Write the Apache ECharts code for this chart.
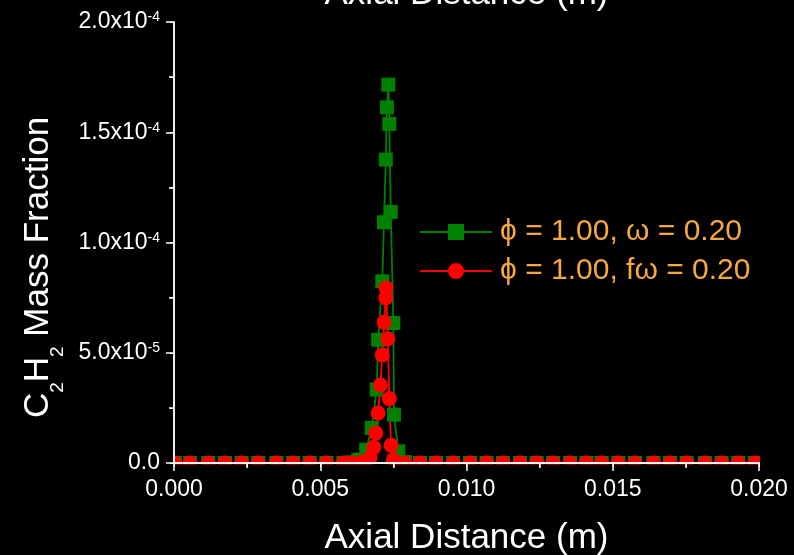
<!DOCTYPE html>
<html>
<head>
    <meta charset="UTF-8">
    <title>C2H2 Mass Fraction</title>
    <script src="https://cdn.jsdelivr.net/npm/echarts@6/dist/echarts.min.js"></script>
    <style>
        body {
            padding: 0;
            margin: 0;
            overflow: hidden;
            background: #000;
        }
        #chart {
            width: 794px;
            height: 555px;
        }
    </style>
</head>
<body>
<div id="chart"></div>

<script>
    // values
    const seriesNames = ['\u03d5 = 1.00, \u03c9 = 0.20', '\u03d5 = 1.00, f\u03c9 = 0.20'];

    const greenX = [0.00003, 0.00055, 0.00117, 0.00174, 0.00231, 0.00288, 0.0035, 0.00407, 0.00464, 0.00521,
        0.00579, 0.00607, 0.0063, 0.00657, 0.00676, 0.00693, 0.00698, 0.00712, 0.00718, 0.00724,
        0.00728, 0.00733, 0.00736, 0.00741, 0.0075, 0.00752, 0.00767, 0.0079, 0.00841, 0.00896,
        0.00954, 0.01012, 0.01069, 0.01125, 0.01183, 0.0124, 0.01296, 0.01354, 0.0141, 0.01462,
        0.01519, 0.01576, 0.01639, 0.01696, 0.01753, 0.01815, 0.01872, 0.01929, 0.01986];
    const greenY = [0, 0, 0, 0, 0, 0, 0, 0, 0, 0,
        0, 0.3e-6, 1.5e-6, 6.0e-6, 1.59e-5, 3.33e-5, 5.59e-5, 8.24e-5, 1.092e-4, 1.376e-4,
        1.613e-4, 1.716e-4, 1.538e-4, 1.139e-4, 6.35e-5, 2.19e-5, 5.3e-6, 0.4e-6, 0, 0,
        0, 0, 0, 0, 0, 0, 0, 0, 0, 0,
        0, 0, 0, 0, 0, 0, 0, 0, 0];

    const redX = [0.00003, 0.00055, 0.00117, 0.00174, 0.00231, 0.00288, 0.0035, 0.00407, 0.00464, 0.00521,
        0.00579, 0.00607, 0.00641, 0.0067, 0.00683, 0.0069, 0.00698, 0.00706, 0.00712, 0.00718,
        0.00724, 0.00725, 0.00731, 0.00736, 0.00742, 0.0075, 0.0079, 0.00841, 0.00896,
        0.00954, 0.01012, 0.01069, 0.01125, 0.01183, 0.0124, 0.01296, 0.01354, 0.0141, 0.01462,
        0.01519, 0.01576, 0.01639, 0.01696, 0.01753, 0.01815, 0.01872, 0.01929, 0.01986];
    const redY = [0, 0, 0, 0, 0, 0, 0, 0, 0, 0,
        0, 0, 0.3e-6, 2.4e-6, 7.1e-6, 1.36e-5, 2.27e-5, 3.54e-5, 4.9e-5, 6.38e-5,
        7.49e-5, 7.94e-5, 5.63e-5, 2.92e-5, 8.0e-6, 1.5e-6, 0, 0, 0,
        0, 0, 0, 0, 0, 0, 0, 0, 0, 0,
        0, 0, 0, 0, 0, 0, 0, 0, 0];

    const xMin = 0, xMax = 0.02, xStep = 0.005;
    const yMin = 0, yMax = 2e-4, yStep = 5e-5;

    const FONT = 'Liberation Sans';
    const ORANGE = '#f5a742';

    function yLabel(v) {
        if (v === 0) return '{b|0.0}';
        const e = Math.floor(Math.log10(v) + 1e-9);
        const m = v / Math.pow(10, e);
        return `{b|${m.toFixed(1)}x10}{s|${e}}`;
    }

    function pairs(xs, ys) {
        return xs.map((x, i) => [x, ys[i]]);
    }

    const ec = echarts.init(document.getElementById('chart'));

    const axisLine = {lineStyle: {color: '#fff', width: 1.5}};
    const tickOut = {length: 8, lineStyle: {color: '#fff', width: 1.5}};
    const minorOut = {show: true, splitNumber: 2, length: 5, lineStyle: {color: '#fff', width: 1.5}};
    const tickIn = {inside: true, length: 4, lineStyle: {color: '#fff', width: 1}};
    const minorIn = {show: true, splitNumber: 2, length: 4, lineStyle: {color: '#fff', width: 1}};

    const option = {
        animation: false,
        backgroundColor: '#000',
        textStyle: {fontFamily: FONT},
        grid: {
            left: 174, right: 35, top: 22, bottom: 92,
            containLabel: false,
            outerBoundsMode: 'none'
        },
        legend: {
            orient: 'vertical',
            left: 419,
            top: 217,
            padding: 0,
            itemWidth: 72,
            itemHeight: 20,
            itemGap: 9,
            textStyle: {color: ORANGE, fontSize: 30, fontFamily: FONT, padding: [0, 0, 0, 3]},
            data: seriesNames
        },
        xAxis: [
            {
                type: 'value', position: 'bottom', z: 10,
                min: xMin, max: xMax, interval: xStep,
                axisLine: axisLine,
                axisTick: tickOut,
                minorTick: minorOut,
                splitLine: {show: false},
                axisLabel: {color: '#fff', fontSize: 23, margin: 15, formatter: v => v.toFixed(3)},
                name: 'Axial Distance (m)',
                nameLocation: 'middle',
                nameGap: 58,
                nameTextStyle: {color: '#fff', fontSize: 35}
            },
            {
                type: 'value', position: 'top', z: 10,
                min: xMin, max: xMax, interval: xStep,
                axisLine: axisLine,
                axisTick: tickIn,
                minorTick: minorIn,
                splitLine: {show: false},
                axisLabel: {show: false},
                name: 'Axial Distance (m)',
                nameLocation: 'middle',
                nameGap: 10,
                nameTextStyle: {color: '#fff', fontSize: 35}
            }
        ],
        yAxis: [
            {
                type: 'value', position: 'left', z: 10,
                min: yMin, max: yMax, interval: yStep,
                axisLine: axisLine,
                axisTick: tickOut,
                minorTick: minorOut,
                splitLine: {show: false},
                axisLabel: {
                    margin: 14,
                    formatter: yLabel,
                    rich: {
                        b: {color: '#fff', fontSize: 23, fontFamily: FONT},
                        s: {color: '#fff', fontSize: 14, fontFamily: FONT, verticalAlign: 'top'}
                    }
                },
                name: '{a|C}{s|2}{a|H}{s|2}{a| Mass Fraction}',
                nameLocation: 'middle',
                nameRotate: 90,
                nameGap: 110,
                nameTextStyle: {
                    padding: [0, 50, 0, 0],
                    rich: {
                        a: {color: '#fff', fontSize: 35, lineHeight: 40, fontFamily: FONT, verticalAlign: 'top'},
                        s: {color: '#fff', fontSize: 19, lineHeight: 20, fontFamily: FONT, verticalAlign: 'top',
                            padding: [28, 0, 0, 0]}
                    }
                }
            },
            {
                type: 'value', position: 'right', z: 10,
                min: yMin, max: yMax, interval: yStep,
                axisLine: axisLine,
                axisTick: tickIn,
                minorTick: minorIn,
                splitLine: {show: false},
                axisLabel: {show: false}
            }
        ],
        series: [
            {
                name: seriesNames[0],
                type: 'line',
                data: pairs(greenX, greenY),
                symbol: 'rect',
                symbolSize: 14,
                clip: false,
                lineStyle: {color: '#008000', width: 1.8},
                itemStyle: {color: '#008000'}
            },
            {
                name: seriesNames[1],
                type: 'line',
                data: pairs(redX, redY),
                symbol: 'circle',
                symbolSize: 15,
                clip: false,
                lineStyle: {color: '#ff0000', width: 1.8},
                itemStyle: {color: '#ff0000'}
            }
        ]
    };
    ec.setOption(option);

    // the original clips markers at the frame; hide what spills over it
    const p0 = ec.convertToPixel({gridIndex: 0}, [xMin, yMin]);
    const p1 = ec.convertToPixel({gridIndex: 0}, [xMax, yMax]);
    const mask = {type: 'rect', z: 5, silent: true, style: {fill: '#000'}};
    ec.setOption({
        graphic: [
            Object.assign({}, mask, {shape: {x: p0[0] - 20, y: p0[1] + 1.5, width: p1[0] - p0[0] + 40, height: 12}}),
            Object.assign({}, mask, {shape: {x: p0[0] - 20, y: p0[1] - 30, width: 19.5, height: 42}}),
            Object.assign({}, mask, {shape: {x: p1[0] + 1, y: p0[1] - 30, width: 20, height: 42}})
        ]
    });
</script>
</body>
</html>
